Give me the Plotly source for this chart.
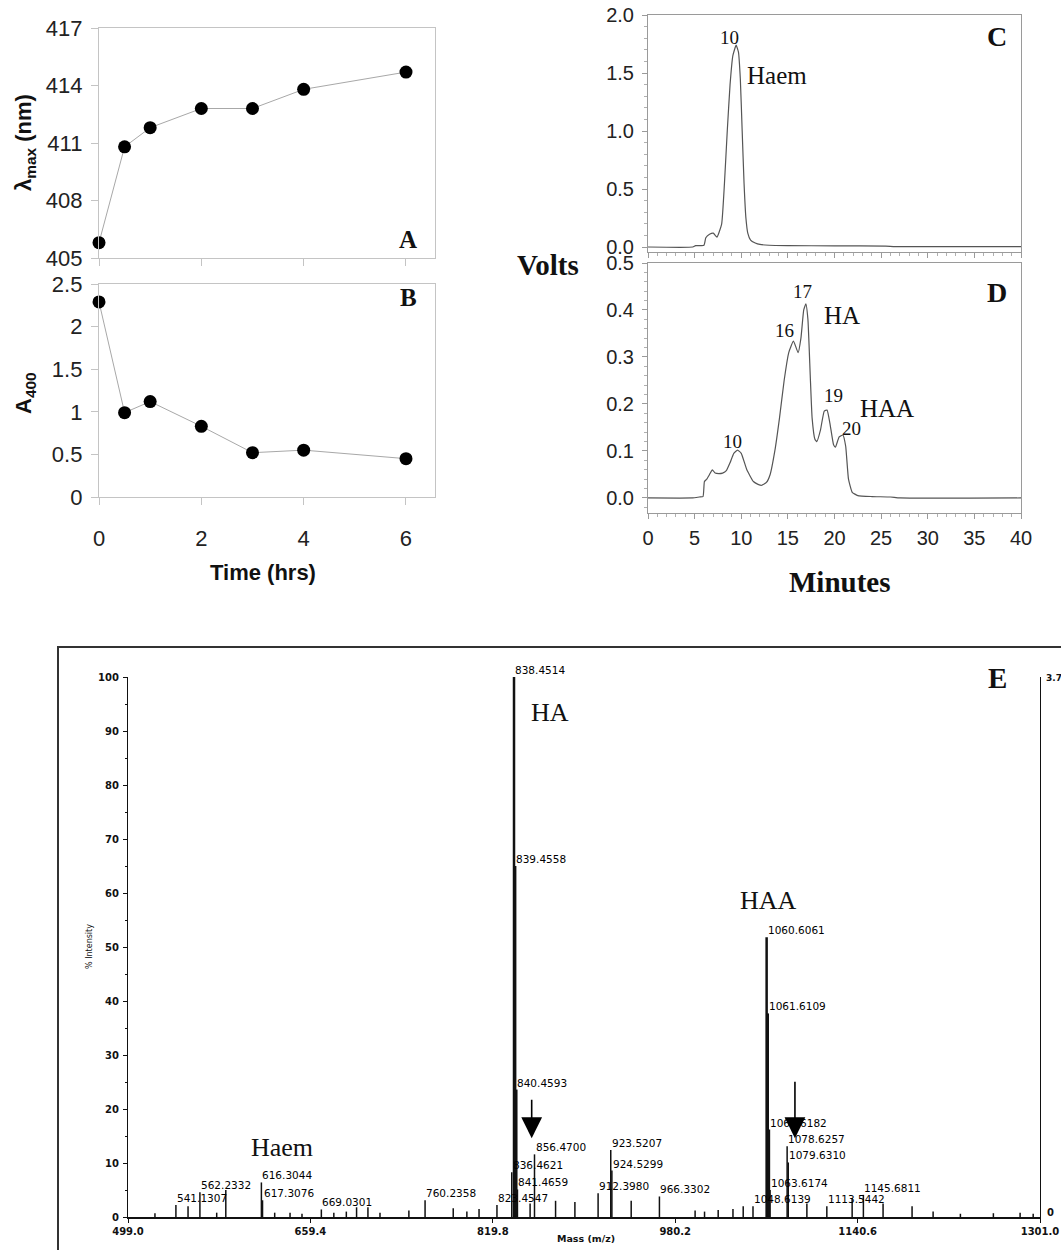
import plotly.graph_objects as go

W, H = 1061, 1250

# ---------------- data: panels A / B ----------------
time_hrs = [0, 0.5, 1, 2, 3, 4, 6]
lambda_max_nm = [405.8, 410.8, 411.8, 412.8, 412.8, 413.8, 414.7]
a400 = [2.29, 0.99, 1.12, 0.83, 0.52, 0.55, 0.45]
time_ticks = [0, 2, 4, 6]
lambda_ticks = [405, 408, 411, 414, 417]
a400_ticks = [0, 0.5, 1, 1.5, 2, 2.5]
a400_ticktext = ["0", "0.5", "1", "1.5", "2", "2.5"]

# ---------------- data: panel C (haem) ----------------
c_minutes = [0, 4.8, 5.1, 6.0, 6.2, 6.6, 7.0, 7.4, 7.9, 8.2, 8.5, 8.8, 9.1, 9.45, 9.7,
             9.9, 10.1, 10.3, 10.5, 10.7, 11.0, 11.5, 12.0, 13.0, 15.0, 20.0, 25.5, 26.5, 40]
c_volts = [0, 0, 0.012, 0.015, 0.08, 0.11, 0.12, 0.085, 0.2, 0.55, 1.0, 1.4, 1.65, 1.74, 1.68,
           1.45, 1.0, 0.55, 0.25, 0.12, 0.06, 0.035, 0.022, 0.015, 0.012, 0.01, 0.008, 0.003, 0.003]

# ---------------- data: panel D (reaction mixture) ----------------
d_minutes = [0, 4.8, 5.5, 5.9, 6.05, 6.3, 6.6, 6.9, 7.2, 7.6, 8.0, 8.4, 8.8, 9.2, 9.6, 10.0,
             10.6, 11.3, 11.8, 12.2, 12.7, 13.1, 13.6, 14.1, 14.6, 15.1, 15.6, 16.1, 16.4,
             16.7, 16.93, 17.15, 17.4, 17.6, 17.9, 18.1, 18.5, 18.9, 19.2, 19.5, 19.9, 20.1,
             20.5, 20.9, 21.2, 21.5, 21.9, 22.5, 24.0, 26.0, 27.0, 40]
d_volts = [0, 0, 0.002, 0.003, 0.035, 0.04, 0.05, 0.06, 0.053, 0.052, 0.053, 0.058, 0.075,
           0.095, 0.102, 0.095, 0.06, 0.035, 0.029, 0.027, 0.033, 0.05, 0.1, 0.17, 0.25,
           0.31, 0.334, 0.309, 0.34, 0.40, 0.413, 0.38, 0.26, 0.17, 0.125, 0.12, 0.145, 0.185,
           0.187, 0.16, 0.113, 0.108, 0.13, 0.134, 0.11, 0.04, 0.012, 0.005, 0.003, 0.002, 0.0, 0]
minute_ticks = [0, 5, 10, 15, 20, 25, 30, 35, 40]
volt_ticks_c = [0, 0.5, 1.0, 1.5, 2.0]
volt_ticks_d = [0, 0.1, 0.2, 0.3, 0.4, 0.5]

# ---------------- data: panel E (MALDI spectrum) ----------------
ms_labeled_mz = [541.1307, 562.2332, 616.3044, 617.3076, 669.0301, 760.2358, 823.4547,
                 836.4621, 838.4514, 839.4558, 840.4593, 841.4659, 856.4700, 912.3980,
                 923.5207, 924.5299, 966.3302, 1048.6139, 1060.6061, 1061.6109, 1062.6182,
                 1063.6174, 1078.6257, 1079.6310, 1113.5442, 1145.6811]
ms_labeled_int = [2.2, 4.6, 6.4, 3.1, 1.4, 3.1, 2.2,
                  8.3, 100, 65.0, 23.6, 5.1, 11.6, 4.4,
                  12.4, 8.6, 3.8, 2.0, 51.8, 37.7, 16.2,
                  5.0, 13.1, 10.1, 2.0, 4.1]
ms_other_mz = [522.7, 551.8, 577.0, 585.0, 628.0, 641.5, 652.0, 680.0, 691.0, 700.0, 710.0,
               720.6, 746.0, 785.0, 797.0, 807.7, 852.6, 875.0, 892.0, 941.5, 997.7, 1006.0,
               1018.0, 1031.0, 1040.0, 1096.0, 1135.8, 1163.0, 1188.5, 1207.0, 1231.0,
               1260.0, 1283.5, 1295.0]
ms_other_int = [0.7, 2.0, 0.8, 5.0, 0.8, 0.8, 0.6, 0.8, 1.0, 1.8, 1.8,
                0.8, 1.2, 1.6, 1.0, 1.5, 2.5, 3.0, 2.8, 3.0, 1.2, 1.0,
                1.3, 1.5, 2.0, 2.5, 3.5, 2.5, 2.0, 1.0, 0.6,
                0.7, 0.8, 0.6]
ms_tick_mz = [499.0, 659.4, 819.8, 980.2, 1140.6, 1301.0]
intensity_ticks = [0, 10, 20, 30, 40, 50, 60, 70, 80, 90, 100]
arrow_mz = [854.0, 1085.5]

# ---------------- helpers ----------------
def PX(p):
    return p / W


def PY(p):
    return 1 - p / H


SANS = "Liberation Sans, Arial, sans-serif"
SERIF = "Liberation Serif, Times New Roman, serif"
SMALL = "DejaVu Sans, sans-serif"


def sticks(mz, inten):
    xs, ys = [], []
    for m, h in zip(mz, inten):
        xs += [m, m, None]
        ys += [0, h, None]
    return xs, ys


fig = go.Figure()

# Panel A
fig.add_trace(go.Scatter(x=time_hrs, y=lambda_max_nm, mode="lines+markers",
                         line=dict(color="#a8a8a8", width=1),
                         marker=dict(color="black", size=13),
                         xaxis="x", yaxis="y", cliponaxis=False, showlegend=False))
# Panel B
fig.add_trace(go.Scatter(x=time_hrs, y=a400, mode="lines+markers",
                         line=dict(color="#a8a8a8", width=1),
                         marker=dict(color="black", size=13),
                         xaxis="x2", yaxis="y2", cliponaxis=False, showlegend=False))
# Panel C
fig.add_trace(go.Scatter(x=c_minutes, y=c_volts, mode="lines",
                         line=dict(color="#555555", width=1.2, shape="spline", smoothing=0.4),
                         xaxis="x3", yaxis="y3", showlegend=False))
# Panel D
fig.add_trace(go.Scatter(x=d_minutes, y=d_volts, mode="lines",
                         line=dict(color="#555555", width=1.2, shape="spline", smoothing=0.4),
                         xaxis="x4", yaxis="y4", showlegend=False))

# Panel E sticks
big_mz = [m for m, h in zip(ms_labeled_mz, ms_labeled_int) if h >= 15]
big_h = [h for h in ms_labeled_int if h >= 15]
small_mz = [m for m, h in zip(ms_labeled_mz, ms_labeled_int) if h < 15] + ms_other_mz
small_h = [h for h in ms_labeled_int if h < 15] + ms_other_int
xs, ys = sticks(small_mz, small_h)
fig.add_trace(go.Scatter(x=xs, y=ys, mode="lines", line=dict(color="#111111", width=1.5),
                         xaxis="x5", yaxis="y5", showlegend=False, connectgaps=False))
xs, ys = sticks(big_mz, big_h)
fig.add_trace(go.Scatter(x=xs, y=ys, mode="lines", line=dict(color="#111111", width=2.5),
                         xaxis="x5", yaxis="y5", showlegend=False, connectgaps=False))

frame_col = "#c4c4c4"
ab_font = dict(family=SANS, size=22, color="#222222")
cd_font = dict(family=SANS, size=20, color="#222222")
e_font = dict(family=SMALL, size=10, color="#111111", weight="bold")

common_ab_x = dict(domain=[PX(99), PX(435)], range=[0, 6.567], tickvals=time_ticks,
                   showline=True, linecolor=frame_col, linewidth=1.3, mirror=True,
                   ticks="outside", ticklen=7, tickcolor=frame_col, showgrid=False,
                   zeroline=False, tickfont=ab_font, automargin=False,
                   ticklabeloverflow="allow")
layout = dict(
    width=W, height=H, autosize=False,
    margin=dict(l=0, r=0, t=0, b=0, pad=0, autoexpand=False),
    paper_bgcolor="white", plot_bgcolor="white",
    xaxis=dict(common_ab_x, anchor="y", showticklabels=False),
    yaxis=dict(domain=[PY(258), PY(28)], range=[405, 417], tickvals=lambda_ticks,
               showline=True, linecolor=frame_col, linewidth=1.3, mirror=True,
               ticks="outside", ticklen=7, tickcolor=frame_col, showgrid=False,
               zeroline=False, tickfont=ab_font, anchor="x", ticklabelstandoff=4,
               automargin=False, ticklabeloverflow="allow"),
    xaxis2=dict(common_ab_x, anchor="y2", showticklabels=True, ticklabelstandoff=14),
    yaxis2=dict(domain=[PY(497), PY(284)], range=[0, 2.5], tickvals=a400_ticks,
                ticktext=a400_ticktext,
                showline=True, linecolor=frame_col, linewidth=1.3, mirror=True,
                ticks="outside", ticklen=7, tickcolor=frame_col, showgrid=False,
                zeroline=False, tickfont=ab_font, anchor="x2", ticklabelstandoff=4,
                automargin=False, ticklabeloverflow="allow"),
    xaxis3=dict(domain=[PX(648), PX(1021)], range=[0, 40], tickvals=minute_ticks,
                showticklabels=False, showline=True, linecolor="#9a9a9a", mirror=True,
                ticks="outside", ticklen=5, tickcolor="#9a9a9a",
                minor=dict(dtick=1, ticks="outside", ticklen=3, tickcolor="#b0b0b0"),
                showgrid=False, zeroline=False, anchor="y3", automargin=False),
    yaxis3=dict(domain=[PY(252), PY(15)], range=[-0.043, 2.0], tickvals=volt_ticks_c,
                ticktext=[f"{v:.1f}" for v in volt_ticks_c],
                showline=True, linecolor="#9a9a9a", mirror=True,
                ticks="outside", ticklen=5, tickcolor="#9a9a9a",
                minor=dict(dtick=0.1, ticks="outside", ticklen=3, tickcolor="#b0b0b0"),
                showgrid=False, zeroline=False, tickfont=cd_font, anchor="x3",
                ticklabelstandoff=4, automargin=False, ticklabeloverflow="allow"),
    xaxis4=dict(domain=[PX(648), PX(1021)], range=[0, 40], tickvals=minute_ticks,
                showline=True, linecolor="#9a9a9a", mirror=True,
                ticks="outside", ticklen=5, tickcolor="#9a9a9a",
                minor=dict(dtick=1, ticks="outside", ticklen=3, tickcolor="#b0b0b0"),
                showgrid=False, zeroline=False, tickfont=cd_font, anchor="y4",
                ticklabelstandoff=2, automargin=False, ticklabeloverflow="allow"),
    yaxis4=dict(domain=[PY(513), PY(263)], range=[-0.032, 0.5], tickvals=volt_ticks_d,
                ticktext=[f"{v:.1f}" for v in volt_ticks_d],
                showline=True, linecolor="#9a9a9a", mirror=True,
                ticks="outside", ticklen=5, tickcolor="#9a9a9a",
                minor=dict(dtick=0.02, ticks="outside", ticklen=3, tickcolor="#b0b0b0"),
                showgrid=False, zeroline=False, tickfont=cd_font, anchor="x4",
                ticklabelstandoff=4, automargin=False, ticklabeloverflow="allow"),
    xaxis5=dict(domain=[PX(128), PX(1040)], range=[499, 1301], tickvals=ms_tick_mz,
                ticktext=[f"{v:.1f}" for v in ms_tick_mz],
                showline=True, linecolor="#111111", linewidth=1.5,
                ticks="outside", ticklen=4, tickcolor="#111111",
                showgrid=False, zeroline=False, tickfont=e_font, anchor="y5",
                ticklabelstandoff=0, automargin=False, ticklabeloverflow="allow"),
    yaxis5=dict(domain=[PY(1217), PY(677)], range=[0, 100], tickvals=intensity_ticks,
                showline=True, linecolor="#111111", linewidth=1.3, mirror=True,
                ticks="outside", ticklen=4, tickcolor="#111111",
                minor=dict(dtick=5, ticks="outside", ticklen=2, tickcolor="#111111"),
                showgrid=False, zeroline=False, tickfont=e_font, anchor="x5",
                ticklabelstandoff=2, automargin=False, ticklabeloverflow="allow"),
)
fig.update_layout(**layout)

ann = []


def txt(text, px, py, size, family, bold=False, angle=0, xanchor="center", color="#111111"):
    ann.append(dict(text=text, x=PX(px), y=PY(py), xref="paper", yref="paper",
                    xanchor=xanchor, yanchor="middle", showarrow=False, textangle=angle,
                    font=dict(family=family, size=size, color=color,
                              weight="bold" if bold else "normal")))


# A / B titles
txt("λ<sub>max</sub> (nm)", 25, 143, 22, SANS, bold=True, angle=-90)
txt("A<sub>400</sub>", 25, 393, 22, SANS, bold=True, angle=-90)
txt("Time (hrs)", 263, 573, 22, SANS, bold=True)
txt("A", 408, 240, 25, SERIF, bold=True)
txt("B", 408, 298, 25, SERIF, bold=True)
# C / D
txt("Volts", 548, 265, 29, SERIF, bold=True)
txt("Minutes", 840, 582, 29, SERIF, bold=True)
txt("C", 997, 37, 28, SERIF, bold=True)
txt("D", 997, 293, 28, SERIF, bold=True)
txt("10", 729, 38, 19, SERIF)
txt("Haem", 777, 75, 25, SERIF)
txt("17", 802, 291, 19, SERIF)
txt("HA", 842, 315, 25, SERIF)
txt("16", 784, 330, 19, SERIF)
txt("19", 833, 396, 19, SERIF)
txt("HAA", 887, 409, 25, SERIF)
txt("20", 851, 428, 19, SERIF)
txt("10", 732, 441, 19, SERIF)
# E
txt("E", 997, 678, 29, SERIF, bold=True)
txt("HA", 550, 712, 26, SERIF)
txt("HAA", 768, 900, 26, SERIF)
txt("Haem", 282, 1147, 26, SERIF)
txt("% Intensity", 89, 947, 8, SMALL, angle=-90)
txt("Mass (m/z)", 586, 1238, 9.5, SMALL, bold=True)
txt("3.7", 1044, 678, 9, SMALL, bold=True, xanchor="left")
txt("0", 1045, 1212, 10, SMALL, bold=True, xanchor="left")

# peak labels
for m, h in zip(ms_labeled_mz, ms_labeled_int):
    ann.append(dict(text=f"{m:.4f}", x=m, y=h, xref="x5", yref="y5", xanchor="left",
                    yanchor="bottom", yshift=-1, xshift=-1, showarrow=False,
                    font=dict(family=SMALL, size=10.5, color="#000000")))

# arrows
for m, ay in zip(arrow_mz, [-40, -58]):
    ann.append(dict(text="", x=m, y=14.6, xref="x5", yref="y5", ax=0, ay=ay,
                    showarrow=True, arrowhead=2, arrowsize=2.6, arrowwidth=1.6,
                    arrowcolor="#000000"))

fig.update_layout(annotations=ann)

# outer frame of panel E
fig.add_shape(type="rect", xref="paper", yref="paper", x0=PX(58), y0=-0.05, x1=1.05,
              y1=PY(647), line=dict(color="#333333", width=2), layer="below")

# page body without its default margin so the figure fills the window exactly
fig.write_html("out.html", default_width=f"{W}px", default_height=f"{H}px",
               config={"displayModeBar": False},
               post_script="document.body.style.margin='0px';"
                           "document.body.style.overflow='hidden';")
